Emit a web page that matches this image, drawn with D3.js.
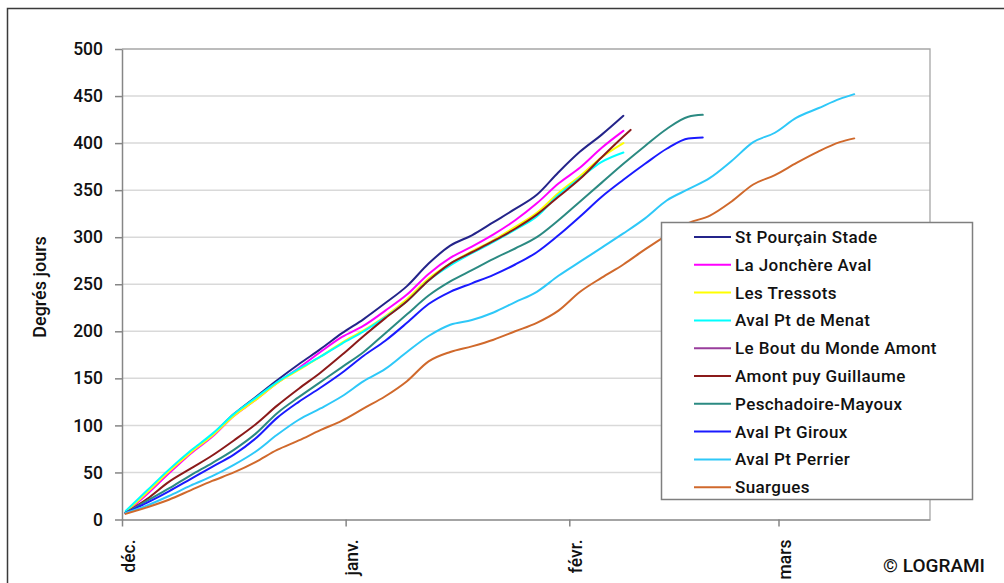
<!DOCTYPE html>
<html>
<head>
<meta charset="utf-8">
<script src="https://cdn.jsdelivr.net/npm/d3@7"></script>
<style>
  html, body { margin: 0; padding: 0; background: #fff; }
  svg { display: block; font-family: Roboto, "DejaVu Sans", sans-serif; font-weight: 500; }
</style>
</head>
<body>
<svg id="chart" width="1004" height="583"></svg>
<script>
// Cumulative degree-days per station, winter 2011-2012.
// Sample days are counted from 1 December.
const daysToFeb8 = [0,3,6,9,12,15,18,21,24,27,30,33,36,39,42,45,48,51,54,57,60,63,66,69];
const daysToFeb9 = [0,3,6,9,12,15,18,21,24,27,30,33,36,39,42,45,48,51,54,57,60,63,66,69,70];
const daysToFeb19 = [0,3,6,9,12,15,18,21,24,27,30,33,36,39,42,45,48,51,54,57,60,63,66,69,72,75,78,80];
const daysToMar11 = [0,3,6,9,12,15,18,21,24,27,30,33,36,39,42,45,48,51,54,57,60,63,66,69,72,75,78,81,84,87,90,93,96,99,101];

const stPourcainStade   = [7,28,51,72,90,112,130,148,165,181,198,213,230,248,272,291,302,316,330,345,369,391,409,429];
const laJonchereAval    = [7,27,49,70,88,110,127,145,161,178,194,206,222,239,261,278,290,303,318,336,357,374,395,413];
const lesTressots       = [8,29,51,71,89,110,127,145,159,173,188,201,216,234,256,272,285,297,311,326,347,365,385,400];
const avalPtDeMenat     = [9,31,53,73,91,112,129,146,160,173,187,200,215,232,254,270,283,295,308,322,345,363,380,390];
const leBoutDuMonde     = [];
const amontPuyGuillaume = [7,22,40,54,68,84,101,121,139,156,175,195,214,232,254,272,284,296,309,324,343,362,385,407,414];
const peschadoire       = [7,20,33,47,60,74,91,113,130,146,162,178,198,218,238,253,265,277,288,300,318,338,358,378,397,415,428,430];
const avalPtGiroux      = [7,18,30,43,56,69,86,108,125,140,156,174,190,209,229,242,251,260,271,284,302,322,343,361,378,394,405,406];
const avalPtPerrier     = [7,15,25,36,46,58,72,90,106,118,131,147,160,178,195,207,212,220,231,242,259,274,289,304,320,339,351,363,381,401,411,427,437,447,452];
const suargues          = [6,13,21,31,41,50,61,74,84,95,105,118,131,147,168,178,184,191,200,209,222,242,257,271,287,302,315,323,338,356,366,379,391,401,405];

const stationNames = ["St Pourçain Stade","La Jonchère Aval","Les Tressots","Aval Pt de Menat",
  "Le Bout du Monde Amont","Amont puy Guillaume","Peschadoire-Mayoux","Aval Pt Giroux",
  "Aval Pt Perrier","Suargues"];
const stationColors = ["#24248a","#ff00ff","#ffff00","#00ffff","#993d9c",
  "#8b1a1a","#2b8a82","#1a1aff","#2ec8f8","#d0692c"];
const stationDays = [daysToFeb8, daysToFeb8, daysToFeb8, daysToFeb8, daysToFeb8,
  daysToFeb9, daysToFeb19, daysToFeb19, daysToMar11, daysToMar11];
const stationValues = [stPourcainStade, laJonchereAval, lesTressots, avalPtDeMenat, leBoutDuMonde,
  amontPuyGuillaume, peschadoire, avalPtGiroux, avalPtPerrier, suargues];

const yTicks = [0,50,100,150,200,250,300,350,400,450,500];
const monthLabels = ["déc.","janv.","févr.","mars"];
const monthStarts = [Date.UTC(2011,11,1), Date.UTC(2012,0,1), Date.UTC(2012,1,1), Date.UTC(2012,2,1)];

const svg = d3.select("#chart");
const startMs = Date.UTC(2011,11,1);
const dayMs = 86400000;
const dateOf = d => new Date(startMs + (d + 0.5) * dayMs);

const x = d3.scaleUtc().domain([new Date(startMs), new Date(Date.UTC(2012,2,22))]).range([122, 930]);
const y = d3.scaleLinear().domain([0, 500]).range([519.5, 49]);

// outer chart frame
svg.append("rect").attr("x", 7.5).attr("y", 8.5).attr("width", 1200).attr("height", 800)
  .attr("fill", "none").attr("stroke", "#3a3a3a").attr("stroke-width", 1.5);

// horizontal gridlines
svg.append("g").selectAll("line").data(yTicks.filter(t => t > 0 && t < 500)).join("line")
  .attr("x1", 122).attr("x2", 930).attr("y1", d => y(d)).attr("y2", d => y(d))
  .attr("stroke", "#d9d9d9").attr("stroke-width", 1.5);

// plot area top and right edges
svg.append("path")
  .attr("d", `M${x.range()[0]},${y(500)}H${x.range()[1]}V${y(0)}`)
  .attr("fill", "none").attr("stroke", "#a6a6a6").attr("stroke-width", 1.3);

// y axis
const yAxis = svg.append("g").attr("transform", `translate(${x.range()[0]},0)`)
  .call(d3.axisLeft(y).tickValues(yTicks).tickSize(7).tickSizeOuter(0).tickPadding(12));
yAxis.selectAll("path, line").attr("stroke", "#868686").attr("stroke-width", 1.5);
yAxis.selectAll("text").attr("font-size", 17.5).attr("fill", "#111")
  .attr("font-family", "Roboto, sans-serif").attr("font-weight", 500);

// x axis
const xAxis = svg.append("g").attr("transform", `translate(0,${y(0)})`)
  .call(d3.axisBottom(x).tickValues(monthStarts.map(t => new Date(t)))
    .tickFormat((d, i) => monthLabels[i]).tickSize(7).tickSizeOuter(0));
xAxis.selectAll("path, line").attr("stroke", "#868686").attr("stroke-width", 1.5);
xAxis.selectAll("text")
  .attr("font-size", 17.5).attr("fill", "#111").attr("font-family", "Roboto, sans-serif")
  .attr("font-weight", 500)
  .attr("text-anchor", "end").attr("dy", null).attr("y", null)
  .attr("transform", "translate(12,20) rotate(-90)");

// y axis title
svg.append("text").attr("transform", "translate(46,287) rotate(-90)")
  .attr("text-anchor", "middle").attr("font-size", 18).attr("fill", "#111")
  .text("Degrés jours");

// station series
const line = d3.line().x(p => x(dateOf(p.day))).y(p => y(p.v)).curve(d3.curveMonotoneX);
const series = stationNames.map((name, i) => ({
  name, color: stationColors[i],
  points: stationValues[i].map((v, j) => ({ day: stationDays[i][j], v }))
}));
svg.append("g").selectAll("path").data(series.filter(s => s.points.length)).join("path")
  .attr("d", s => line(s.points))
  .attr("fill", "none").attr("stroke", s => s.color).attr("stroke-width", 2)
  .attr("stroke-linejoin", "round").attr("stroke-linecap", "round");

// legend
const legend = svg.append("g").attr("transform", "translate(661,222)");
legend.append("rect").attr("x", 0.5).attr("y", 0.5).attr("width", 311).attr("height", 277)
  .attr("fill", "#fff").attr("stroke", "#7f7f7f").attr("stroke-width", 1.5);
const rows = legend.selectAll("g.row").data(series).join("g")
  .attr("transform", (d, i) => `translate(0,${15 + i * 27.8})`);
rows.append("line").attr("x1", 33).attr("x2", 70).attr("y1", 0).attr("y2", 0)
  .attr("stroke", d => d.color).attr("stroke-width", 2);
rows.append("text").attr("x", 74).attr("y", 0).attr("dy", "0.35em")
  .attr("font-size", 17).attr("letter-spacing", 0.4).attr("fill", "#111")
  .text(d => d.name);

// copyright
svg.append("text").attr("x", 985).attr("y", 572).attr("text-anchor", "end")
  .attr("font-size", 19).attr("fill", "#111").text("© LOGRAMI");
</script>
</body>
</html>
